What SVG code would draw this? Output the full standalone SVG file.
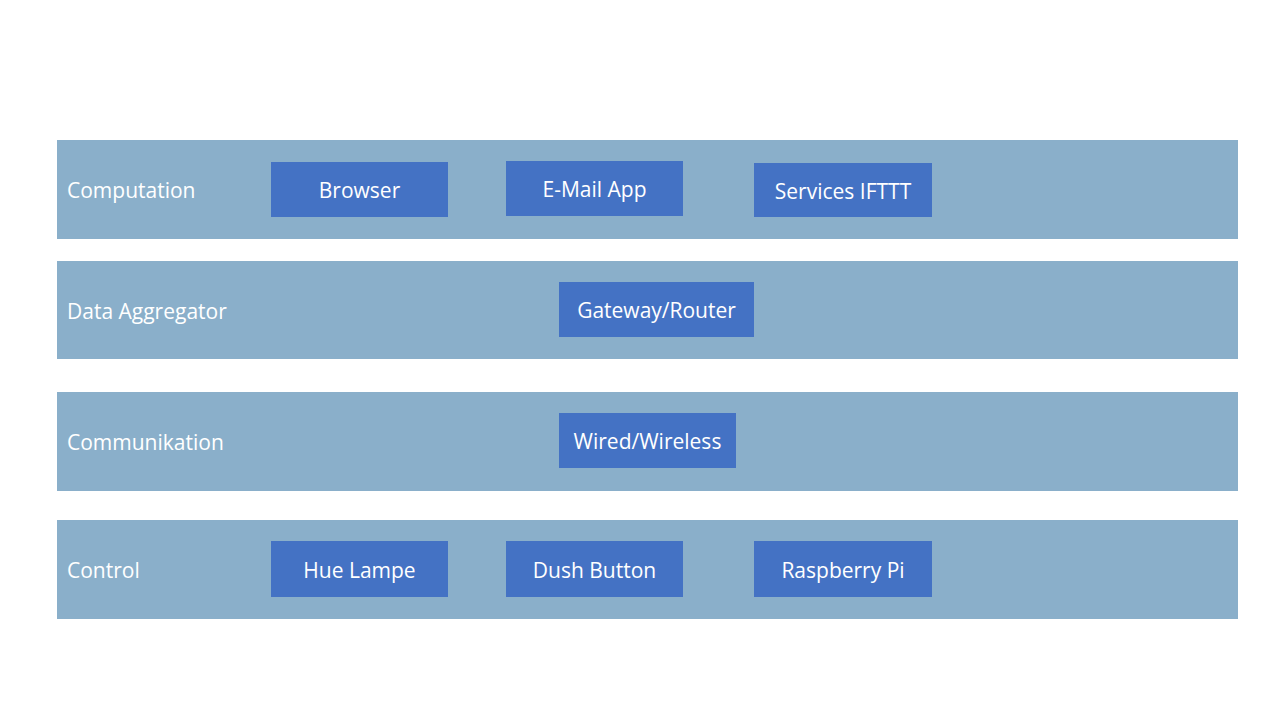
<svg xmlns="http://www.w3.org/2000/svg" width="1280" height="720" viewBox="0 0 1280 720">
<style>
.band{fill:#8AAFCA}
.box{fill:#4472C4}
text{font-family:"Open Sans","Liberation Sans",sans-serif;font-size:21px;fill:#FFFFFF}
.c{text-anchor:middle}
</style>
<rect width="1280" height="720" fill="#FFFFFF"/>
<g id="layer-computation">
<rect class="band" x="57" y="140" width="1181" height="99"/>
<text x="67" y="198">Computation</text>
</g>
<g id="layer-data-aggregator">
<rect class="band" x="57" y="261" width="1181" height="98"/>
<text x="67" y="319">Data Aggregator</text>
</g>
<g id="layer-communikation">
<rect class="band" x="57" y="392" width="1181" height="99"/>
<text x="67" y="450">Communikation</text>
</g>
<g id="layer-control">
<rect class="band" x="57" y="520" width="1181" height="99"/>
<text x="67" y="578">Control</text>
</g>
<g id="browser">
<rect class="box" x="271" y="162" width="177" height="55"/>
<text class="c" x="359.5" y="198">Browser</text>
</g>
<g id="email-app">
<rect class="box" x="506" y="161" width="177" height="55"/>
<text class="c" x="594.5" y="197">E-Mail App</text>
</g>
<g id="services-ifttt">
<rect class="box" x="754" y="163" width="178" height="54"/>
<text class="c" x="843" y="199">Services IFTTT</text>
</g>
<g id="gateway-router">
<rect class="box" x="559" y="282" width="195" height="55"/>
<text class="c" x="656.5" y="318">Gateway/Router</text>
</g>
<g id="wired-wireless">
<rect class="box" x="559" y="413" width="177" height="55"/>
<text class="c" x="647.5" y="449">Wired/Wireless</text>
</g>
<g id="hue-lampe">
<rect class="box" x="271" y="541" width="177" height="56"/>
<text class="c" x="359.5" y="578">Hue Lampe</text>
</g>
<g id="dush-button">
<rect class="box" x="506" y="541" width="177" height="56"/>
<text class="c" x="594.5" y="578">Dush Button</text>
</g>
<g id="raspberry-pi">
<rect class="box" x="754" y="541" width="178" height="56"/>
<text class="c" x="843" y="578">Raspberry Pi</text>
</g>
<g id="connectors"></g>
</svg>
